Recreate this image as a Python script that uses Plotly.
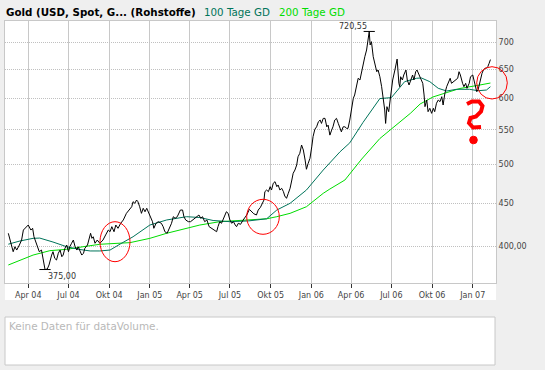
import math
import plotly.graph_objects as go

# ---------------- data ----------------
price_dates = [
 "2004-02-16","2004-02-22","2004-02-27","2004-03-02","2004-03-06","2004-03-12","2004-03-17","2004-03-21",
 "2004-03-27","2004-04-01","2004-04-07","2004-04-11","2004-04-14","2004-04-20","2004-04-26","2004-05-01",
 "2004-05-05","2004-05-09","2004-05-14","2004-05-18","2004-05-24","2004-05-27","2004-05-31","2004-06-04",
 "2004-06-08","2004-06-12","2004-06-16","2004-06-19","2004-06-23","2004-06-27","2004-07-01","2004-07-04",
 "2004-07-08","2004-07-12","2004-07-16","2004-07-20","2004-07-23","2004-07-27","2004-07-31","2004-08-04",
 "2004-08-07","2004-08-13","2004-08-17","2004-08-20","2004-08-23","2004-08-26","2004-08-30","2004-09-04",
 "2004-09-10","2004-09-17","2004-09-23","2004-09-29","2004-10-03","2004-10-07","2004-10-12","2004-10-16",
 "2004-10-21","2004-10-27","2004-11-02","2004-11-09","2004-11-15","2004-11-21","2004-11-24","2004-11-28",
 "2004-12-02","2004-12-05","2004-12-09","2004-12-13","2004-12-17","2004-12-21","2004-12-25","2004-12-28",
 "2005-01-03","2005-01-07","2005-01-10","2005-01-15","2005-01-20","2005-01-27","2005-01-31","2005-02-04",
 "2005-02-09","2005-02-14","2005-02-19","2005-02-23","2005-02-27","2005-03-04","2005-03-08","2005-03-11",
 "2005-03-16","2005-03-19","2005-03-23","2005-03-29","2005-04-03","2005-04-08","2005-04-13","2005-04-18",
 "2005-04-22","2005-04-26","2005-04-30","2005-05-05","2005-05-10","2005-05-15","2005-05-20","2005-05-26",
 "2005-06-01","2005-06-04","2005-06-08","2005-06-12","2005-06-16","2005-06-20","2005-06-23","2005-06-27",
 "2005-07-01","2005-07-05","2005-07-09","2005-07-13","2005-07-16","2005-07-20","2005-07-25","2005-07-31",
 "2005-08-08","2005-08-14","2005-08-19","2005-08-24","2005-08-30","2005-09-03","2005-09-08","2005-09-13",
 "2005-09-16","2005-09-18","2005-09-22","2005-09-26","2005-09-30","2005-10-03","2005-10-07","2005-10-11",
 "2005-10-15","2005-10-18","2005-10-22","2005-10-26","2005-10-30","2005-11-02","2005-11-06","2005-11-10",
 "2005-11-14","2005-11-18","2005-11-21","2005-11-25","2005-11-29","2005-12-02","2005-12-06","2005-12-10",
 "2005-12-14","2005-12-18","2005-12-21","2005-12-25","2005-12-29","2006-01-02","2006-01-05","2006-01-09",
 "2006-01-13","2006-01-17","2006-01-21","2006-01-24","2006-01-28","2006-02-01","2006-02-05","2006-02-08",
 "2006-02-12","2006-02-16","2006-02-19","2006-02-23","2006-02-27","2006-03-03","2006-03-07","2006-03-10",
 "2006-03-14","2006-03-18","2006-03-22","2006-03-25","2006-03-29","2006-04-02","2006-04-06","2006-04-09",
 "2006-04-13","2006-04-17","2006-04-21","2006-04-25","2006-04-28","2006-05-02","2006-05-06","2006-05-12",
 "2006-05-14","2006-05-17","2006-05-21","2006-05-25","2006-05-29","2006-06-01","2006-06-05","2006-06-09",
 "2006-06-12","2006-06-16","2006-06-18","2006-06-21","2006-06-25","2006-06-29","2006-07-04","2006-07-09",
 "2006-07-12","2006-07-14","2006-07-18","2006-07-20","2006-07-22","2006-07-26","2006-07-29","2006-08-03",
 "2006-08-06","2006-08-10","2006-08-14","2006-08-18","2006-08-21","2006-08-25","2006-08-28","2006-09-02",
 "2006-09-05","2006-09-10","2006-09-13","2006-09-15","2006-09-19","2006-09-22","2006-09-26","2006-09-30",
 "2006-10-04","2006-10-07","2006-10-11","2006-10-15","2006-10-19","2006-10-23","2006-10-26","2006-10-30",
 "2006-11-03","2006-11-07","2006-11-11","2006-11-14","2006-11-18","2006-11-24","2006-11-28","2006-12-01",
 "2006-12-04","2006-12-09","2006-12-12","2006-12-16","2006-12-19","2006-12-24","2006-12-27","2007-01-01",
 "2007-01-04","2007-01-07","2007-01-10","2007-01-13","2007-01-16","2007-01-19","2007-01-22","2007-01-25",
 "2007-01-29","2007-02-01","2007-02-04","2007-02-07","2007-02-10",
]
price_values = [
 414.2,403.0,393.8,399.2,395.6,401.1,406.6,417.9,
 421.8,423.7,417.9,419.9,410.3,401.1,393.8,395.6,
 384.9,375.0,375.5,379.7,390.2,393.8,386.7,384.9,
 392.1,395.6,388.4,390.2,397.5,401.1,393.8,399.2,
 403.0,406.6,399.2,395.6,399.2,393.8,390.2,392.1,
 397.5,401.1,408.5,414.2,408.5,410.3,403.0,406.6,
 403.0,406.6,412.3,417.9,416.0,421.8,416.0,423.7,
 419.9,425.7,429.6,437.5,441.5,445.5,451.7,449.7,
 453.8,451.7,445.5,437.5,443.6,439.4,443.6,439.4,
 433.5,427.6,419.9,425.7,427.6,425.7,421.8,416.0,
 414.2,419.9,425.7,433.5,431.6,433.5,437.5,441.5,
 441.5,433.5,429.6,427.6,427.6,429.6,431.6,433.5,
 435.5,431.6,433.5,427.6,429.6,421.8,419.9,417.9,
 416.0,421.8,427.6,425.7,431.6,437.5,439.4,437.5,
 429.6,425.7,427.6,423.7,421.8,425.7,424.5,429.6,
 435.5,442.3,439.4,437.0,435.5,441.5,444.8,449.7,
 453.8,464.3,466.4,464.3,470.7,466.4,475.1,477.2,
 470.7,472.9,466.4,468.6,464.3,458.8,455.9,462.2,
 468.6,479.4,488.3,492.7,499.5,511.0,515.8,527.7,
 520.5,506.4,493.7,501.9,508.8,525.0,540.0,551.0,
 554.7,562.4,565.1,559.9,567.7,567.7,554.7,557.3,
 542.2,549.7,554.7,565.1,567.7,559.9,552.3,547.1,
 554.7,554.7,552.3,552.3,565.1,586.2,599.8,605.3,
 619.2,633.7,630.7,648.2,654.1,672.3,684.8,720.55,
 694.3,700.6,672.3,660.2,645.2,648.2,636.4,619.2,
 605.3,580.9,559.9,586.2,578.2,602.5,630.7,648.2,
 660.0,668.0,625.0,619.2,636.4,630.7,639.4,648.2,
 630.7,622.1,630.7,639.4,630.7,645.2,648.2,639.4,
 633.7,625.0,605.3,586.2,597.0,578.2,583.6,575.6,
 583.6,578.2,591.7,597.0,594.3,602.5,588.9,608.1,
 619.2,627.8,633.7,625.0,627.8,630.7,633.7,645.2,
 639.4,625.0,619.2,625.0,616.5,625.0,636.4,639.4,
 630.7,622.1,610.8,613.6,625.0,636.4,642.4,648.2,
 651.3,651.3,654.1,660.2,667.0,
]

ma100_dates = [
 "2004-02-16","2004-03-13","2004-04-12","2004-04-27","2004-05-27","2004-06-27","2004-07-27","2004-08-19",
 "2004-09-10","2004-10-03","2004-10-26","2004-11-24","2005-01-01","2005-02-08","2005-03-25","2005-04-24",
 "2005-05-24","2005-07-01","2005-08-12","2005-09-22","2005-10-15","2005-11-14","2005-12-21","2006-01-28",
 "2006-03-07","2006-03-29","2006-04-28","2006-06-05","2006-07-01","2006-07-31","2006-08-27","2006-09-07",
 "2006-09-26","2006-10-15","2006-11-03","2006-11-25","2006-12-25","2007-01-13","2007-02-01","2007-02-10",
]
ma100_values = [
 402.0,405.5,408.5,408.8,404.4,399.2,396.2,394.6,
 394.6,395.6,402.2,410.3,423.7,429.6,433.5,432.5,
 429.0,427.6,428.5,431.0,441.5,449.7,466.4,492.7,
 518.0,530.8,561.5,599.4,600.9,627.8,633.7,634.2,
 627.8,616.5,611.9,614.8,614.8,612.4,613.6,619.2,
]

ma200_dates = [
 "2004-02-16","2004-04-12","2004-05-20","2004-06-27","2004-08-03","2004-09-10","2004-11-17","2005-01-01",
 "2005-02-08","2005-04-24","2005-06-08","2005-08-12","2005-09-22","2005-10-15","2005-11-14","2005-12-21",
 "2006-01-28","2006-02-12","2006-03-18","2006-04-25","2006-05-14","2006-06-05","2006-06-28","2006-07-21",
 "2006-08-13","2006-09-04","2006-10-03","2006-11-04","2006-12-03","2007-01-17","2007-02-10",
]
ma200_values = [
 379.7,390.2,394.9,396.4,399.2,401.9,403.7,408.5,
 414.2,423.7,427.6,430.0,431.0,433.5,437.5,445.5,
 462.2,467.7,479.4,507.8,520.5,537.2,549.7,562.4,
 575.6,590.5,602.0,609.5,616.2,622.1,625.5,
]

x_tick_dates = ["2004-04-01","2004-07-01","2004-10-01","2005-01-01","2005-04-01","2005-07-01",
                "2005-10-01","2006-01-01","2006-04-01","2006-07-01","2006-10-01","2007-01-01"]
x_tick_labels = ["Apr 04","Jul 04","Okt 04","Jan 05","Apr 05","Jul 05",
                 "Okt 05","Jan 06","Apr 06","Jul 06","Okt 06","Jan 07"]
y_tick_values = [400, 450, 500, 550, 600, 650, 700]
y_tick_labels = ["400,00", "450", "500", "550", "600", "650", "700"]

title_text = "Gold (USD, Spot, G... (Rohstoffe)"
ma100_name = "100 Tage GD"
ma200_name = "200 Tage GD"
volume_text = "Keine Daten für dataVolume."

# ---------------- layout geometry ----------------
W, H = 545, 370
PL, PR, PT, PB = 5, 496, 21, 283  # plot area in pixels
FONT = "DejaVu Sans"
C_MA100 = "#00745a"
C_MA200 = "#00dd00"


def px(xp):
    return (xp - PL) / (PR - PL)


def py(yp):
    return (PB - yp) / (PB - PT)


fig = go.Figure()
fig.add_trace(go.Scatter(x=ma200_dates, y=ma200_values, mode="lines",
                         line=dict(color=C_MA200, width=1), name=ma200_name, hoverinfo="skip"))
fig.add_trace(go.Scatter(x=ma100_dates, y=ma100_values, mode="lines",
                         line=dict(color=C_MA100, width=1), name=ma100_name, hoverinfo="skip"))
fig.add_trace(go.Scatter(x=price_dates, y=price_values, mode="lines",
                         line=dict(color="#000000", width=1), name="Gold"))

# high / low markers
i_max = price_values.index(max(price_values))
i_min = price_values.index(min(price_values))
fig.add_trace(go.Scatter(x=[price_dates[i_max], price_dates[i_min]],
                         y=[price_values[i_max], price_values[i_min]], mode="markers",
                         marker=dict(symbol="line-ew", size=8, line=dict(color="#000", width=1)),
                         hoverinfo="skip"))


def de(v):
    return f"{v:.2f}".replace(".", ",")


annotations = [
    dict(x=price_dates[i_max], y=math.log10(price_values[i_max]), xref="x", yref="y",
         text=de(price_values[i_max]), showarrow=False, xanchor="right", yanchor="bottom",
         xshift=0, yshift=-2, font=dict(family=FONT, size=8, color="#333")),
    dict(x=price_dates[i_min], y=math.log10(price_values[i_min]), xref="x", yref="y",
         text=de(price_values[i_min]), showarrow=False, xanchor="left", yanchor="top",
         xshift=1, yshift=0, font=dict(family=FONT, size=8, color="#333")),
    dict(x=px(4), y=py(12), xref="paper", yref="paper", text="<b>" + title_text + "</b>",
         showarrow=False, xanchor="left", yanchor="middle",
         font=dict(family=FONT, size=10.3, color="#000")),
    dict(x=px(201.5), y=py(12), xref="paper", yref="paper", text=ma100_name,
         showarrow=False, xanchor="left", yanchor="middle",
         font=dict(family=FONT, size=10.3, color=C_MA100)),
    dict(x=px(276.5), y=py(12), xref="paper", yref="paper", text=ma200_name,
         showarrow=False, xanchor="left", yanchor="middle",
         font=dict(family=FONT, size=10.3, color=C_MA200)),
    dict(x=px(7), y=py(326), xref="paper", yref="paper", text=volume_text,
         showarrow=False, xanchor="left", yanchor="middle",
         font=dict(family=FONT, size=10.4, color="#b8b8b8")),
]

shapes = [
    # white band under the plot for the date labels
    dict(type="rect", xref="paper", yref="paper", x0=px(PL), x1=px(PR), y0=py(300), y1=py(PB),
         fillcolor="white", line=dict(width=0), layer="below"),
    # empty volume panel
    dict(type="rect", xref="paper", yref="paper", x0=px(5), x1=px(495), y0=py(365), y1=py(317),
         fillcolor="white", line=dict(color="#c8c8c8", width=1), layer="below"),
    # hand drawn red marks
    dict(type="circle", xref="paper", yref="paper", x0=px(100), x1=px(130), y0=py(261.7), y1=py(221.7),
         line=dict(color="#ff0000", width=1)),
    dict(type="circle", xref="paper", yref="paper", x0=px(246.7), x1=px(279.3), y0=py(234.3), y1=py(199.3),
         line=dict(color="#ff0000", width=1)),
    dict(type="circle", xref="paper", yref="paper", x0=px(476.7), x1=px(507.3), y0=py(99), y1=py(66.7),
         line=dict(color="#ff0000", width=1)),
]
qpts = [(467, 104), (472, 101.5), (479, 101.5), (482.5, 106), (481, 111.5), (476, 116.5),
        (470.5, 118), (469, 123), (473, 127.5), (481, 127)]
path = "M " + " L ".join(f"{px(a):.4f},{py(b):.4f}" for a, b in qpts)
shapes.append(dict(type="path", xref="paper", yref="paper", path=path,
                   line=dict(color="#ff0000", width=4)))
shapes.append(dict(type="circle", xref="paper", yref="paper", x0=px(469.7), x1=px(477.3),
                   y0=py(143.8), y1=py(136.2), fillcolor="#ff0000", line=dict(color="#ff0000", width=1)))

fig.update_layout(
    width=W, height=H,
    margin=dict(l=PL, r=W - PR, t=PT, b=H - PB, pad=0),
    paper_bgcolor="#efefef", plot_bgcolor="#ffffff",
    showlegend=False,
    annotations=annotations, shapes=shapes,
    font=dict(family=FONT, size=8, color="#444"),
)
fig.update_xaxes(
    type="date", range=["2004-02-08 12:00", "2007-02-22 14:00"],
    tickmode="array", tickvals=x_tick_dates, ticktext=x_tick_labels,
    ticks="outside", ticklen=4, tickcolor="#333", tickwidth=1,
    showgrid=True, gridcolor="#c8c8c8", gridwidth=1,
    showline=True, linecolor="#c8c8c8", linewidth=1, mirror=True,
    zeroline=False, tickfont=dict(family=FONT, size=8, color="#444"),
)
fig.update_yaxes(
    type="log", range=[math.log10(361.4), math.log10(741.5)], side="right",
    tickmode="array", tickvals=y_tick_values, ticktext=y_tick_labels,
    ticks="", showgrid=True, gridcolor="#c0c0c0", gridwidth=1, griddash="1px,1px",
    showline=True, linecolor="#c8c8c8", linewidth=1, mirror=True,
    zeroline=False, tickfont=dict(family=FONT, size=8, color="#444"),
)

fig.write_html(
    "out.html",
    config={"displayModeBar": False, "staticPlot": True},
    post_script="document.body.style.margin='0px';document.body.style.overflow='hidden';",
)
